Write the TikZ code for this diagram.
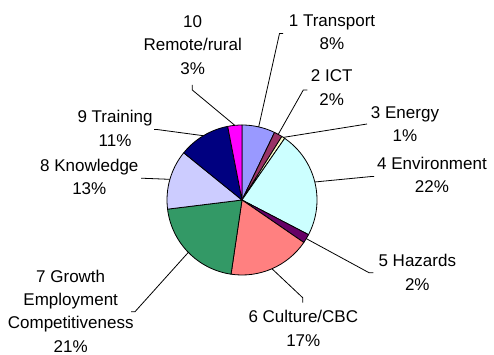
\documentclass[tikz,border=0pt]{standalone}
\usepackage{fontspec}
\setmainfont{Liberation Sans}
\usetikzlibrary{calc}

\begin{document}
\begin{tikzpicture}[x=1pt,y=1pt,
	lbl/.style={align=center,inner sep=0pt,font=\fontsize{17}{23.3}\selectfont},
	lead/.style={line width=0.8pt},
	slice/.style={draw=black,line width=0.8pt,line join=round}]

\definecolor{transp}{RGB}{153,153,255}
\definecolor{ictc}{RGB}{153,51,102}
\definecolor{energ}{RGB}{255,255,204}
\definecolor{envir}{RGB}{204,255,255}
\definecolor{hazrd}{RGB}{102,0,102}
\definecolor{cultr}{RGB}{255,128,128}
\definecolor{growt}{RGB}{51,153,102}
\definecolor{knowl}{RGB}{204,204,255}
\definecolor{train}{RGB}{0,0,128}
\definecolor{remot}{RGB}{255,0,255}

\useasboundingbox (0,0) rectangle (494,354);

\coordinate (ctr) at (242,154);

% slices, clockwise from the top
\foreach \a/\b/\col in {90/64.3/transp, 64.3/57.9/ictc, 57.9/55.3/energ, 55.3/-27.5/envir,
	-27.5/-34.5/hazrd, -34.5/-98.4/cultr, -98.4/-173/growt, -173/-219/knowl,
	-219/-259/train, -259/-270/remot}
	{
		\draw[slice,fill=\col] (ctr) -- ++(\a:75) arc[start angle=\a,end angle=\b,radius=75] -- cycle;
	}

% labels
\node[lbl] (t1) at (332,321.7) {1 Transport\\8\%};
\node[lbl] (t2) at (331.7,266.3) {2 ICT\\2\%};
\node[lbl] (t3) at (405,230.2) {3 Energy\\1\%};
\node[lbl] (t4) at (432,179) {4 Environment\\22\%};
\node[lbl] (t5) at (417.3,81.5) {5 Hazards\\2\%};
\node[lbl] (t6) at (303.3,25.7) {6 Culture/CBC\\17\%};
\node[lbl] (t7) at (70.7,43) {7 Growth\\Employment\\Competitiveness\\21\%};
\node[lbl] (t8) at (89.3,177.3) {8 Knowledge\\13\%};
\node[lbl] (t9) at (115,225.7) {9 Training\\11\%};
\node[lbl] (t10) at (192.7,309) {10\\Remote/rural\\3\%};

% leader lines
\coordinate (e1) at (279.5,320.5);
\coordinate (e2) at (303.3,264);
\coordinate (e3) at (367,230);
\coordinate (e4) at (371.5,177.5);
\coordinate (e5) at (369,81.3);
\coordinate (e6) at (302.7,56.3);
\coordinate (e7) at (135,42.3);
\coordinate (e8) at (144,175.7);
\coordinate (e9) at (157,224.5);
\coordinate (e10) at (192.3,264);

\draw[lead] ($(e1)+(3.5,0)$) -- (e1) -- ($(ctr)+(77.15:75)$);
\draw[lead] ($(e2)+(4,0)$) -- (e2) -- ($(ctr)+(61.1:75)$);
\draw[lead] ($(ctr)+(56.6:75)$) -- (e3);
\draw[lead] ($(ctr)+(13.9:75)$) -- (e4) -- ++(2.5,0);
\draw[lead] ($(ctr)+(-31:75)$) -- (e5) -- ++(4.3,0);
\draw[lead] ($(ctr)+(-66.45:75)$) -- (e6) -- ++(0,-5);
\draw[lead] ($(ctr)+(-135.7:75)$) -- (e7) -- ++(-4,0);
\draw[lead] ($(ctr)+(-196:75)$) -- (e8) -- ++(-3,0);
\draw[lead] ($(ctr)+(-239:75)$) -- (e9) -- ++(-3,0);
\draw[lead] ($(ctr)+(95.5:75)$) -- (e10) -- ++(0,5);

\end{tikzpicture}
\end{document}
